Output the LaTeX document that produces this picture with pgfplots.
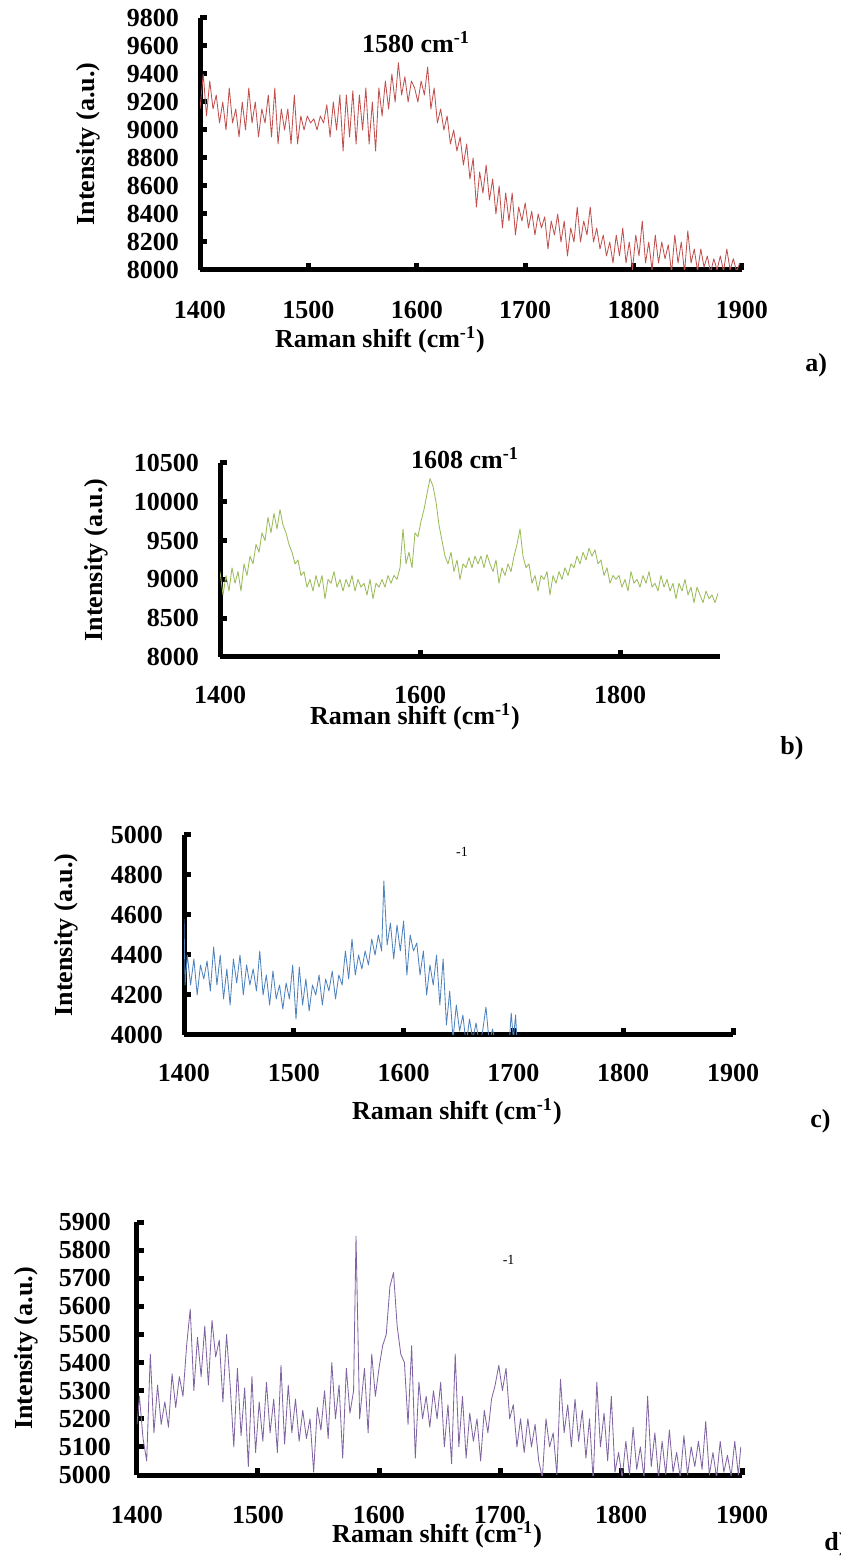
\documentclass[border=0pt]{standalone}
\usepackage{fontspec}
\setmainfont{Liberation Serif}
\usepackage{pgfplots}
\pgfplotsset{compat=1.18}
\definecolor{cA}{HTML}{C0504D}
\definecolor{cB}{HTML}{9BBB59}
\definecolor{cC}{HTML}{4F81BD}
\definecolor{cD}{HTML}{8064A2}
\pgfplotsset{panel/.style={
  scale only axis, axis lines*=left,
  axis line style={line width=2.5pt,-},
  tick align=inside, major tick length=3.5pt,
  tick style={black, line width=2.5pt},
  ticklabel style={font=\fontsize{13}{15}\selectfont\bfseries},
  /pgf/number format/assume math mode=true,
  /pgf/number format/1000 sep={},
  scaled ticks=false, enlargelimits=false, clip mode=individual,
  label style={font=\fontsize{13}{15}\selectfont\bfseries},
  yticklabel style={xshift=-7pt},
  xticklabel style={yshift=-11pt},
  xlabel={Raman shift (cm\textsuperscript{-1})},
  ylabel={Intensity (a.u.)},
}}
\begin{document}
\begin{tikzpicture}
\path[use as bounding box] (0,0) rectangle (420.5pt,779.5pt);
% ---------------- a ----------------
\begin{axis}[panel, at={(100pt,644.5pt)}, anchor=south west,
  width=271pt, height=126pt, xmin=1400, xmax=1900, ymin=8000, ymax=9800,
  xtick={1400,1500,...,1900}, ytick={8000,8200,...,9800},
  xticklabel style={yshift=-1pt},
  xlabel style={at={([yshift=-35pt]axis description cs:0.332,0)}, anchor=center},
  ylabel style={at={([xshift=-56pt]axis description cs:0,0.5)}, anchor=center}]
\addplot[cA, line width=0.42pt, line join=round] coordinates {
(1400,9150) (1403,9400) (1406,9100) (1409,9350) (1412,9150) (1415,9250) (1418,9050) (1421,9200) (1424,9000) (1427,9300)
(1430,9050) (1433,9150) (1436,8950) (1439,9200) (1442,9000) (1445,9300) (1448,9050) (1451,9200) (1454,8950) (1457,9150)
(1460,9050) (1463,9250) (1466,8950) (1469,9300) (1472,8900) (1475,9150) (1478,9000) (1481,9150) (1484,8900) (1487,9250)
(1490,8900) (1493,9100) (1496,9000) (1499,9100) (1502,9050) (1505,9080) (1508,9000) (1511,9100) (1514,9050) (1517,9180)
(1520,8950) (1523,9200) (1526,9000) (1529,9250) (1532,8850) (1535,9250) (1538,8950) (1541,9280) (1544,8900) (1547,9250)
(1550,9000) (1553,9300) (1556,8900) (1559,9200) (1562,8850) (1565,9300) (1568,9100) (1571,9350) (1574,9150) (1577,9400)
(1580,9200) (1583,9480) (1586,9250) (1589,9380) (1592,9200) (1595,9350) (1598,9300) (1601,9200) (1604,9350) (1607,9250)
(1610,9450) (1613,9150) (1616,9300) (1619,9050) (1622,9150) (1625,9000) (1628,9100) (1631,8900) (1634,9000) (1637,8850)
(1640,8950) (1643,8750) (1646,8900) (1649,8650) (1652,8800) (1655,8450) (1658,8700) (1661,8550) (1664,8750) (1667,8500)
(1670,8650) (1673,8400) (1676,8600) (1679,8300) (1682,8550) (1685,8350) (1688,8550) (1691,8250) (1694,8450) (1697,8350)
(1700,8480) (1703,8300) (1706,8420) (1709,8250) (1712,8400) (1715,8300) (1718,8380) (1721,8150) (1724,8350) (1727,8250)
(1730,8400) (1733,8200) (1736,8350) (1739,8100) (1742,8300) (1745,8200) (1748,8450) (1751,8200) (1754,8350) (1757,8250)
(1760,8450) (1763,8200) (1766,8300) (1769,8150) (1772,8250) (1775,8100) (1778,8200) (1781,8050) (1784,8250) (1787,8100)
(1790,8300) (1793,8050) (1796,8200) (1799,8000) (1802,8250) (1805,8100) (1808,8350) (1811,8050) (1814,8200) (1817,8000)
(1820,8250) (1823,8050) (1826,8200) (1829,8080) (1832,8180) (1835,7980) (1838,8250) (1841,8050) (1844,8200) (1847,7980)
(1850,8280) (1853,8050) (1856,8150) (1859,7990) (1862,8150) (1865,8020) (1868,8100) (1871,7980) (1874,8080) (1877,8000)
(1880,8100) (1883,7990) (1886,8150) (1889,8000) (1892,8080) (1895,7990) (1898,8050)
};
\node[anchor=base west, font=\fontsize{13}{15}\selectfont\bfseries] at (axis description cs:0.286,0.865) {1580 cm\textsuperscript{-1}};
\end{axis}
% ---------------- b ----------------
\begin{axis}[panel, at={(110pt,451pt)}, anchor=south west,
  width=250pt, height=97pt, xmin=1400, xmax=1900, ymin=8000, ymax=10500,
  xtick={1400,1600,1800}, ytick={8000,8500,...,10500},
  xlabel style={at={([yshift=-30pt]axis description cs:0.39,0)}, anchor=center},
  ylabel style={at={([xshift=-62pt]axis description cs:0,0.5)}, anchor=center}]
\addplot[cB, line width=0.42pt, line join=round] coordinates {
(1400,9100) (1403,8800) (1406,9050) (1409,8850) (1412,9150) (1415,8950) (1418,9100) (1421,8850) (1424,9200) (1427,9050)
(1430,9300) (1433,9200) (1436,9450) (1439,9350) (1442,9600) (1445,9500) (1448,9800) (1451,9600) (1454,9850) (1457,9650)
(1460,9900) (1463,9700) (1466,9600) (1469,9450) (1472,9350) (1475,9200) (1478,9250) (1481,9050) (1484,9100) (1487,8900)
(1490,9000) (1493,8850) (1496,9050) (1499,8900) (1502,9050) (1505,8750) (1508,9000) (1511,8950) (1514,9100) (1517,8900)
(1520,9000) (1523,8850) (1526,9000) (1529,8900) (1532,9050) (1535,8850) (1538,9000) (1541,8900) (1544,8950) (1547,8800)
(1550,9000) (1553,8750) (1556,8950) (1559,8900) (1562,9000) (1565,8900) (1568,9050) (1571,8950) (1574,9050) (1577,9000)
(1580,9150) (1583,9650) (1586,9200) (1589,9350) (1592,9150) (1595,9600) (1598,9550) (1601,9750) (1604,9900) (1607,10100)
(1610,10300) (1613,10200) (1616,10000) (1619,9700) (1622,9500) (1625,9300) (1628,9200) (1631,9350) (1634,9100) (1637,9250)
(1640,9000) (1643,9200) (1646,9150) (1649,9280) (1652,9150) (1655,9300) (1658,9200) (1661,9300) (1664,9150) (1667,9320)
(1670,9200) (1673,9100) (1676,9250) (1679,8950) (1682,9150) (1685,9050) (1688,9200) (1691,9100) (1694,9300) (1697,9450)
(1700,9650) (1703,9300) (1706,9150) (1709,9200) (1712,8950) (1715,9050) (1718,8850) (1721,9050) (1724,9000) (1727,9100)
(1730,8800) (1733,9050) (1736,8950) (1739,9100) (1742,9000) (1745,9150) (1748,9050) (1751,9200) (1754,9150) (1757,9300)
(1760,9200) (1763,9350) (1766,9250) (1769,9400) (1772,9300) (1775,9380) (1778,9200) (1781,9250) (1784,9050) (1787,9150)
(1790,8950) (1793,9050) (1796,9000) (1799,9050) (1802,8900) (1805,9000) (1808,8850) (1811,9100) (1814,8950) (1817,9000)
(1820,8900) (1823,9050) (1826,8950) (1829,9100) (1832,8900) (1835,8950) (1838,8850) (1841,9050) (1844,8900) (1847,9000)
(1850,8850) (1853,8950) (1856,8750) (1859,8950) (1862,8850) (1865,9000) (1868,8800) (1871,8900) (1874,8700) (1877,8900)
(1880,8800) (1883,8700) (1886,8850) (1889,8750) (1892,8800) (1895,8700) (1898,8820)
};
\node[anchor=base west, font=\fontsize{13}{15}\selectfont\bfseries] at (axis description cs:0.368,0.974) {1608 cm\textsuperscript{-1}};
\end{axis}
% ---------------- c ----------------
\begin{axis}[panel, at={(92pt,262pt)}, anchor=south west,
  width=274.5pt, height=100pt, xmin=1400, xmax=1900, ymin=4000, ymax=5000,
  xtick={1400,1500,...,1900}, ytick={4000,4200,...,5000},
  xlabel style={at={([yshift=-38.5pt]axis description cs:0.497,0)}, anchor=center},
  ylabel style={at={([xshift=-59pt]axis description cs:0,0.5)}, anchor=center}]
\addplot[cC, line width=0.42pt, line join=round] coordinates {
(1400,4580) (1401,4250) (1403,4400) (1406,4250) (1409,4380) (1412,4200) (1415,4350) (1418,4280) (1421,4370) (1424,4220)
(1427,4440) (1430,4250) (1433,4400) (1436,4180) (1439,4330) (1442,4150) (1445,4380) (1448,4260) (1451,4400) (1454,4200)
(1457,4350) (1460,4250) (1463,4330) (1466,4220) (1469,4420) (1472,4200) (1475,4300) (1478,4150) (1481,4320) (1484,4180)
(1487,4250) (1490,4130) (1493,4260) (1496,4180) (1499,4350) (1502,4080) (1505,4340) (1508,4150) (1511,4280) (1514,4120)
(1517,4250) (1520,4200) (1523,4300) (1526,4150) (1529,4280) (1532,4220) (1535,4320) (1538,4180) (1541,4300) (1544,4250)
(1547,4420) (1550,4280) (1553,4480) (1556,4300) (1559,4400) (1562,4330) (1565,4420) (1568,4350) (1571,4480) (1574,4400)
(1577,4500) (1580,4420) (1582,4770) (1585,4450) (1588,4560) (1591,4380) (1594,4550) (1597,4420) (1600,4570) (1603,4300)
(1606,4500) (1609,4420) (1612,4460) (1615,4300) (1618,4420) (1621,4200) (1624,4350) (1627,4250) (1630,4400) (1633,4150)
(1636,4380) (1639,4050) (1642,4220) (1645,3980) (1648,4150) (1651,4020) (1654,4100) (1657,3950) (1660,4080) (1663,3980)
(1666,4060) (1669,3950) (1672,4020) (1675,4140) (1678,3960) (1681,4030) (1684,3950) (1687,3990) (1690,3930) (1693,3960)
(1696,3940) (1698,4110) (1700,3980) (1702,4100) (1704,3900)
};
\node[anchor=base west, font=\fontsize{7}{8}\selectfont] at (axis description cs:0.483,0.89) {-1};
\end{axis}
% ---------------- d ----------------
\begin{axis}[panel, at={(68.5pt,42pt)}, anchor=south west,
  width=302.5pt, height=126.5pt, xmin=1400, xmax=1900, ymin=5000, ymax=5900,
  xtick={1400,1500,...,1900}, ytick={5000,5100,...,5900},
  yticklabel style={xshift=-2.5pt}, xticklabel style={yshift=-1pt},
  xlabel style={at={([yshift=-30pt]axis description cs:0.496,0)}, anchor=center},
  ylabel style={at={([xshift=-55.5pt]axis description cs:0,0.5)}, anchor=center}]
\addplot[cD, line width=0.42pt, line join=round] coordinates {
(1400,5180) (1402,5280) (1405,5130) (1408,5050) (1411,5430) (1414,5150) (1417,5320) (1420,5180) (1423,5260) (1426,5170)
(1429,5360) (1432,5240) (1435,5350) (1438,5280) (1441,5460) (1444,5590) (1447,5300) (1450,5490) (1453,5350) (1456,5530)
(1459,5320) (1462,5550) (1465,5420) (1468,5480) (1471,5260) (1474,5500) (1477,5320) (1480,5100) (1483,5380) (1486,5140)
(1489,5310) (1492,5030) (1495,5350) (1498,5080) (1501,5260) (1504,5120) (1507,5330) (1510,5150) (1513,5270) (1516,5080)
(1519,5390) (1522,5110) (1525,5320) (1528,5150) (1531,5270) (1534,5120) (1537,5230) (1540,5130) (1543,5200) (1546,5010)
(1549,5240) (1552,5160) (1555,5300) (1558,5130) (1561,5400) (1564,5200) (1567,5320) (1570,5060) (1573,5380) (1576,5220)
(1579,5300) (1581,5850) (1584,5200) (1588,5380) (1591,5150) (1594,5430) (1597,5280) (1600,5380) (1603,5460) (1606,5500)
(1609,5670) (1612,5720) (1615,5530) (1618,5430) (1621,5400) (1624,5180) (1627,5460) (1630,5060) (1633,5330) (1636,5200)
(1639,5280) (1642,5170) (1645,5300) (1648,5200) (1651,5330) (1654,5100) (1657,5250) (1660,5040) (1663,5430) (1666,5100)
(1669,5280) (1672,5060) (1675,5220) (1678,5120) (1681,5200) (1684,5050) (1687,5230) (1690,5150) (1693,5270) (1696,5320)
(1699,5390) (1702,5300) (1705,5380) (1708,5200) (1711,5250) (1714,5100) (1717,5200) (1720,5080) (1723,5200) (1726,5100)
(1729,5180) (1732,5050) (1735,4990) (1738,5200) (1741,5100) (1744,5150) (1747,5000) (1750,5340) (1753,5150) (1756,5250)
(1759,5100) (1762,5270) (1765,5120) (1768,5230) (1771,5060) (1774,5200) (1777,4980) (1780,5330) (1783,5100) (1786,5220)
(1789,5050) (1792,5280) (1795,5010) (1798,5080) (1801,4990) (1804,5120) (1807,5000) (1810,5170) (1813,5020) (1816,5100)
(1819,4990) (1822,5280) (1825,5030) (1828,5150) (1831,4990) (1834,5120) (1837,5000) (1840,5160) (1843,5010) (1846,5080)
(1849,4990) (1852,5140) (1855,5000) (1858,5100) (1861,5030) (1864,5120) (1867,5020) (1870,5190) (1873,5000) (1876,5080)
(1879,4990) (1882,5120) (1885,5010) (1888,5070) (1891,4995) (1894,5120) (1897,5000) (1899,5100)
};
\node[anchor=base west, font=\fontsize{7}{8}\selectfont] at (axis description cs:0.593,0.834) {-1};
\end{axis}
% panel letters
\node[anchor=base west, font=\fontsize{13}{15}\selectfont\bfseries, inner sep=0pt] at (402.5pt,593.5pt) {a)};
\node[anchor=base west, font=\fontsize{13}{15}\selectfont\bfseries, inner sep=0pt] at (390pt,402pt) {b)};
\node[anchor=base west, font=\fontsize{13}{15}\selectfont\bfseries, inner sep=0pt] at (405pt,215.5pt) {c)};
\node[anchor=base west, font=\fontsize{13}{15}\selectfont\bfseries, inner sep=0pt] at (412pt,4.5pt) {d)};
\end{tikzpicture}
\end{document}
